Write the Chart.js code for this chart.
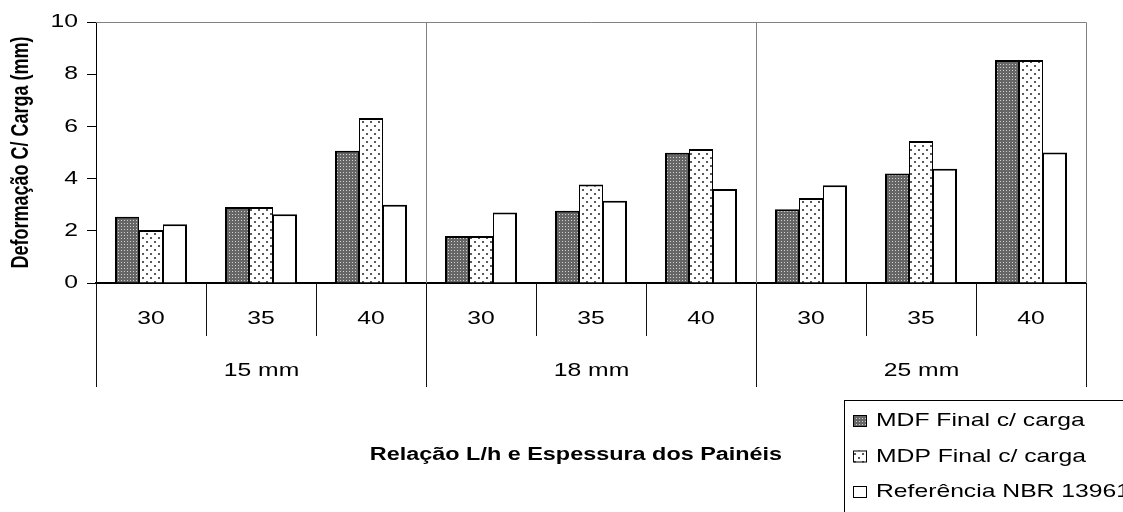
<!DOCTYPE html>
<html>
<head>
<meta charset="utf-8">
<script src="https://cdn.jsdelivr.net/npm/chart.js@4/dist/chart.umd.min.js"></script>
<style>
  html, body { margin: 0; padding: 0; background: #fff; }
  #chart { display: block; }
</style>
</head>
<body>
<canvas id="chart" width="1123" height="512"></canvas>
<script>
// L/h ratios within each panel thickness, and the panel thicknesses
const lhRatios = ['30', '35', '40'];
const thicknesses = ['15 mm', '18 mm', '25 mm'];

// Deflection under load (mm), ordered 15 mm (30,35,40), 18 mm (...), 25 mm (...)
const mdfValues = [2.54, 2.91, 5.07, 1.80, 2.77, 4.99, 2.83, 4.20, 8.54];
const mdpValues = [2.03, 2.91, 6.32, 1.80, 3.77, 5.13, 3.26, 5.44, 8.54];
const nbrValues = [2.25, 2.63, 3.00, 2.70, 3.15, 3.60, 3.75, 4.38, 5.00];

const seriesNames = ['MDF Final c/ carga', 'MDP Final c/ carga', 'Referência NBR 13961'];
const yTickValues = [0, 2, 4, 6, 8, 10];

const yTitle = 'Deformação C/ Carga (mm)';
const xTitle = 'Relação L/h e Espessura dos Painéis';

// Text is drawn slightly widened horizontally
const SX = 1.3;
const FONT = '"Liberation Sans", Arial, sans-serif';

const canvas = document.getElementById('chart');
const ctx = canvas.getContext('2d');

// Fine grey checker fill
function makeCheckerPattern() {
  const c = document.createElement('canvas');
  c.width = 3; c.height = 3;
  const g = c.getContext('2d');
  g.fillStyle = '#666666';
  g.fillRect(0, 0, 3, 3);
  g.fillStyle = '#d0d0d0';
  g.fillRect(1, 1, 1, 1);
  return ctx.createPattern(c, 'repeat');
}

// White fill with staggered dark dots
function makeDotPattern() {
  const c = document.createElement('canvas');
  c.width = 8; c.height = 8;
  const g = c.getContext('2d');
  g.fillStyle = '#ffffff';
  g.fillRect(0, 0, 8, 8);
  g.fillStyle = '#5a5a5a';
  g.fillRect(2, 1, 2, 2);
  g.fillRect(6, 5, 2, 2);
  return ctx.createPattern(c, 'repeat');
}

const fills = [makeCheckerPattern(), makeDotPattern(), '#ffffff'];

// Outline widths: neighbouring bars share a 2px edge
const outlines = [
  { top: 2, left: 2, right: 1, bottom: 0 },
  { top: 2, left: 1, right: 1, bottom: 0 },
  { top: 2, left: 1, right: 2, bottom: 0 }
];

const labels = [];
thicknesses.forEach(() => lhRatios.forEach(r => labels.push(r)));

function drawText(g, text, x, y, align, font) {
  g.save();
  g.font = font;
  g.textAlign = align;
  g.textBaseline = 'middle';
  g.fillStyle = '#000';
  g.translate(x, y);
  g.scale(SX, 1);
  g.fillText(text, 0, 0);
  g.restore();
}

const decorations = {
  id: 'decorations',
  afterDraw(chart) {
    const g = chart.ctx;
    const area = chart.chartArea;
    const xs = chart.scales.x;
    const ys = chart.scales.y;
    const n = labels.length;
    const w = (area.right - area.left) / n;
    const bx = k => Math.round(area.left + k * w) + 0.5;

    g.save();
    // plot frame (top and right) and thickness separators inside the plot
    g.strokeStyle = '#808080';
    g.lineWidth = 1;
    g.beginPath();
    g.moveTo(area.left, Math.round(area.top) + 0.5);
    g.lineTo(bx(n), Math.round(area.top) + 0.5);
    g.lineTo(bx(n), area.bottom);
    for (let k = lhRatios.length; k < n; k += lhRatios.length) {
      g.moveTo(bx(k), area.top);
      g.lineTo(bx(k), area.bottom);
    }
    g.stroke();

    // category table below the axis
    g.strokeStyle = '#111';
    g.beginPath();
    for (let k = 0; k <= n; k++) {
      const long = k % lhRatios.length === 0;
      g.moveTo(bx(k), area.bottom);
      g.lineTo(bx(k), area.bottom + (long ? 104 : 53));
    }
    g.stroke();
    g.restore();

    // L/h ratio labels
    labels.forEach((lab, i) => {
      drawText(g, lab, xs.getPixelForValue(i), area.bottom + 36, 'center', '19px ' + FONT);
    });
    // thickness labels
    thicknesses.forEach((t, j) => {
      const cx = (bx(j * lhRatios.length) + bx((j + 1) * lhRatios.length)) / 2;
      drawText(g, t, cx, area.bottom + 88, 'center', '19px ' + FONT);
    });

    // y tick labels
    yTickValues.forEach(v => {
      drawText(g, String(v), area.left - 18, ys.getPixelForValue(v), 'right', '19px ' + FONT);
    });

    // y title (rotated)
    g.save();
    g.font = 'bold 18px ' + FONT;
    g.textAlign = 'center';
    g.textBaseline = 'middle';
    g.fillStyle = '#000';
    g.translate(22, (area.top + area.bottom) / 2);
    g.scale(SX, 1);
    g.rotate(-Math.PI / 2);
    g.fillText(yTitle, 0, 0);
    g.restore();

    // x title
    drawText(g, xTitle, 576, 455, 'center', 'bold 18px ' + FONT);

    // legend
    g.save();
    g.strokeStyle = '#000';
    g.lineWidth = 1;
    g.strokeRect(844.5, 400.5, 400, 200);
    const rows = [421, 456.5, 492];
    chart.data.datasets.forEach((ds, i) => {
      const y = rows[i];
      g.fillStyle = ds.backgroundColor;
      g.fillRect(853, y - 6, 14, 12);
      g.strokeStyle = '#000';
      g.lineWidth = 1;
      g.strokeRect(853.5, y - 5.5, 13, 11);
      drawText(g, ds.label, 876, y, 'left', '19px ' + FONT);
    });
    g.restore();
  }
};

new Chart(canvas, {
  type: 'bar',
  data: {
    labels: labels,
    datasets: [mdfValues, mdpValues, nbrValues].map((vals, i) => ({
      label: seriesNames[i],
      data: vals,
      backgroundColor: fills[i],
      borderColor: '#000',
      borderWidth: outlines[i],
      borderSkipped: false,
      categoryPercentage: 0.6545,
      barPercentage: 1.0
    }))
  },
  options: {
    responsive: false,
    animation: false,
    devicePixelRatio: 1,
    layout: { padding: { top: 22, right: 37, left: 0, bottom: 0 } },
    plugins: {
      legend: { display: false },
      tooltip: { enabled: false }
    },
    scales: {
      x: {
        offset: true,
        grid: { display: false },
        ticks: { display: false },
        border: { display: true, color: '#000', width: 2 },
        afterFit(scale) { scale.height = 229; }
      },
      y: {
        min: 0,
        max: 10,
        ticks: { display: false, stepSize: 2 },
        grid: { drawOnChartArea: false, drawTicks: true, tickLength: 9, color: '#000', lineWidth: 1 },
        border: { display: true, color: '#000', width: 1 },
        afterFit(scale) { scale.width = 96; }
      }
    }
  },
  plugins: [decorations]
});
</script>
</body>
</html>
